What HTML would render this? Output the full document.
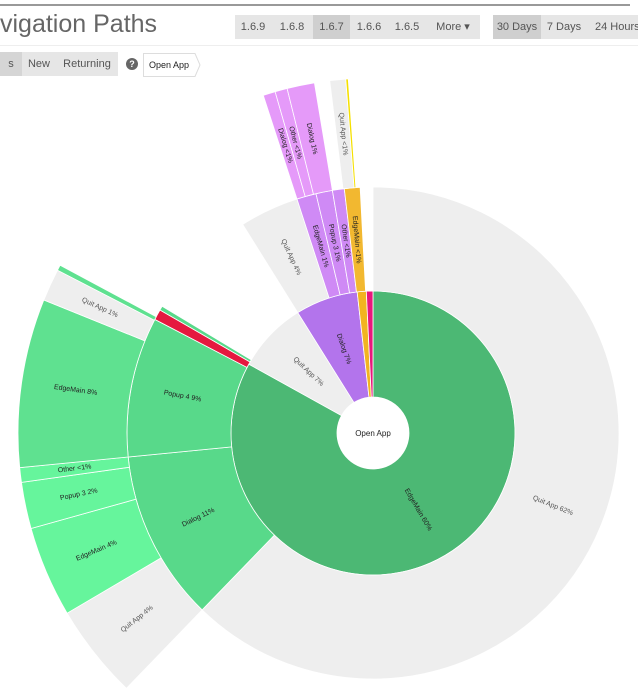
<!DOCTYPE html>
<html><head><meta charset="utf-8"><style>
body{margin:0;width:638px;height:700px;background:#fff;font-family:"Liberation Sans",sans-serif;overflow:hidden;position:relative}
.abs{position:absolute}
.btn{position:absolute;top:15px;height:24px;line-height:24px;font-size:11px;color:#555;text-align:center;background:#e6e6e6}
.sel{background:#cfcfcf}
</style></head><body>
<div class="abs" style="left:0;top:4px;width:630px;height:2px;background:#999"></div>
<div class="abs" style="left:0;top:10px;font-size:25px;color:#666">vigation Paths</div>
<div class="btn" style="left:235px;width:36px">1.6.9</div>
<div class="btn" style="left:271px;width:42px">1.6.8</div>
<div class="btn sel" style="left:313px;width:37px">1.6.7</div>
<div class="btn" style="left:350px;width:38px">1.6.6</div>
<div class="btn" style="left:388px;width:38px">1.6.5</div>
<div class="btn" style="left:426px;width:54px">More ▾</div>
<div class="btn sel" style="left:493px;width:48px">30 Days</div>
<div class="btn" style="left:541px;width:46px">7 Days</div>
<div class="btn" style="left:587px;width:51px;text-align:left;padding-left:8px">24 Hours</div>
<div class="abs" style="left:0;top:45px;width:638px;height:1px;background:#eee"></div>
<div class="btn sel" style="top:52px;left:0;width:22px;background:#d5d5d5">s</div>
<div class="btn" style="top:52px;left:22px;width:34px">New</div>
<div class="btn" style="top:52px;left:56px;width:62px">Returning</div>
<div class="abs" style="left:126px;top:58px;width:12px;height:12px;border-radius:6px;background:#666;color:#fff;font-size:9px;text-align:center;line-height:12px;font-weight:bold">?</div>
<svg class="abs" style="left:143px;top:52px" width="60" height="26"><path d="M0.5 1.5H52L57 13L52 24.5H0.5Z" fill="#fff" stroke="#ddd"/><text x="6" y="16" font-size="9" fill="#222" font-family="Liberation Sans">Open App</text></svg>
<svg id="sb" class="abs" style="left:0;top:0" width="638" height="700"></svg>
<script>
const cx=373,cy=433,s=document.getElementById('sb');
const R=[36,142,246,355];
const segs=[
[1,0,299,'#4cb874','EdgeMain 60%'],
[1,299,328,'#eeeeee','Quit App 7%'],
[1,328,353.6,'#b374ec','Dialog 7%'],
[1,353.6,357.3,'#f2b420',''],
[1,357.3,360,'#e8187c',''],
[2,0,224,'#eeeeee','Quit App 62%'],
[2,224,264.4,'#58d98a','Dialog 11%'],
[2,264.4,297.5,'#58d98a','Popup 4 9%'],
[2,297.5,300,'#e5183f',''],
[2,300,301,'#58d98a',''],
[2,328,342,'#eeeeee','Quit App 4%'],
[2,342,346.6,'#cf8af5','EdgeMain 1%'],
[2,346.6,350.5,'#cf8af5','Popup 3 1%'],
[2,350.5,353.3,'#cf8af5','Other <1%'],
[2,353.3,357,'#f2b830','EdgeMain <1%'],
[3,224,239.5,'#eeeeee','Quit App 4%'],
[3,239.5,254.4,'#66f59c','EdgeMain 4%'],
[3,254.4,262,'#66f59c','Popup 3 2%'],
[3,262,264.4,'#66f59c','Other <1%'],
[3,264.4,292,'#5fe190','EdgeMain 8%'],
[3,292,297.3,'#eeeeee','Quit App 1%'],
[3,297.3,298.2,'#5fe190',''],
[3,342,344,'#e59af9','Dialog <1%'],
[3,344,346,'#e59af9','Other <1%'],
[3,346,350.5,'#e59af9','Dialog 1%'],
[3,353,355.6,'#eeeeee','Quit App <1%'],
[3,355.6,356,'#f5e000',''],
];
function p(a,r){a=a*Math.PI/180;return [cx+r*Math.sin(a),cy-r*Math.cos(a)];}
let h='';
for(const [ri,a0,a1,c,l] of segs){
 const r0=R[ri-1],r1=R[ri];const big=(a1-a0)>180?1:0;
 const A=p(a0,r0),B=p(a1,r0),C=p(a1,r1),D=p(a0,r1);
 h+=`<path d="M${A}A${r0},${r0} 0 ${big} 1 ${B}L${C}A${r1},${r1} 0 ${big} 0 ${D}Z" fill="${c}" stroke="#fff" stroke-width="0.8"/>`;
}
for(const [ri,a0,a1,c,l] of segs){
 if(!l)continue;const m=(a0+a1)/2,rm=(R[ri-1]+R[ri])/2;const [x,y]=p(m,rm);
 const rot=m<180?m-90:m+90;
 const col=c=='#eeeeee'?'#555':'#222';
 h+=`<text x="${x}" y="${y}" transform="rotate(${rot} ${x} ${y})" font-size="7" fill="${col}" text-anchor="middle" dominant-baseline="middle" font-family="Liberation Sans">${l.replace('<','&lt;')}</text>`;
}
h+=`<circle cx="${cx}" cy="${cy}" r="35" fill="#fff"/><text x="${cx}" y="${cy+3}" font-size="8" text-anchor="middle" fill="#222" font-family="Liberation Sans">Open App</text>`;
s.innerHTML=h;
</script>
</body></html>
